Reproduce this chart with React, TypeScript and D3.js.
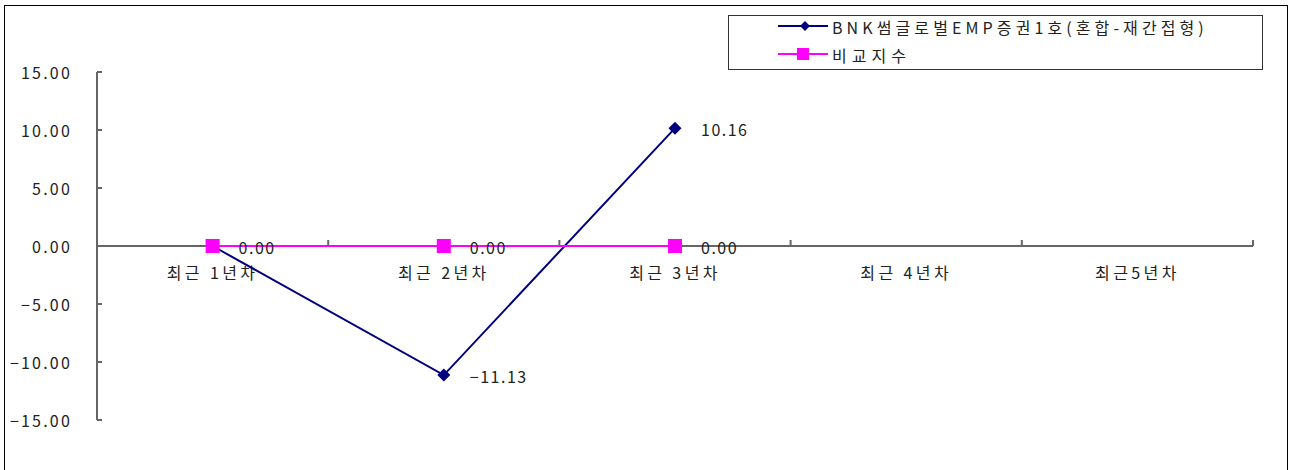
import React from "react";
import * as d3 from "d3";

const categories = ["최근 1년차", "최근 2년차", "최근 3년차", "최근 4년차", "최근5년차"];
const fundName = "BNK썸글로벌EMP증권1호(혼합-재간접형)";
const indexName = "비교지수";
const fundValues: (number | null)[] = [0.0, -11.13, 10.16, null, null];
const indexValues: (number | null)[] = [0.0, 0.0, 0.0, null, null];
const yTicks = [15, 10, 5, 0, -5, -10, -15];

const W = 1290;
const H = 470;
const FONT = "'Noto Sans CJK KR', 'Noto Sans', sans-serif";

export default function App() {
  const plotLeft = 97;
  const plotRight = 1253;
  const x = d3.scaleBand<string>().domain(categories).range([plotLeft, plotRight]).padding(0);
  const y = d3.scaleLinear().domain([-15, 15]).range([420, 72]);
  const cx = (c: string) => (x(c) as number) + x.bandwidth() / 2;

  const line = d3
    .line<{ c: string; v: number | null }>()
    .defined((d) => d.v !== null)
    .x((d) => cx(d.c))
    .y((d) => y(d.v as number));

  const fundPts = categories.map((c, i) => ({ c, v: fundValues[i] }));
  const idxPts = categories.map((c, i) => ({ c, v: indexValues[i] }));
  const y0 = y(0);
  const boundaries = categories.map((c) => (x(c) as number) + x.bandwidth());

  const navy = "#000080";
  const magenta = "#FF00FF";
  const axisColor = "#666666";

  const diamond = (px: number, py: number, r: number) =>
    `M${px},${py - r}L${px + r},${py}L${px},${py + r}L${px - r},${py}Z`;

  const seen = new Set<string>();
  const labelPts = [...fundPts, ...idxPts].filter((d) => {
    if (d.v === null) return false;
    const k = d.c + "|" + d.v;
    if (seen.has(k)) return false;
    seen.add(k);
    return true;
  });

  return (
    <div style={{ position: "absolute", left: 0, top: 0 }}>
      <svg width={W} height={H} style={{ display: "block", background: "#fff" }} fontFamily={FONT}>
        <rect x={4.5} y={5.5} width={1283} height={480} fill="#fff" stroke="#000" strokeWidth={1} />

        {/* Y axis */}
        <line x1={plotLeft} x2={plotLeft} y1={y(15)} y2={y(-15)} stroke={axisColor} strokeWidth={2} />
        {yTicks.map((t) => (
          <g key={t}>
            <line x1={plotLeft} x2={plotLeft + 5} y1={y(t)} y2={y(t)} stroke={axisColor} strokeWidth={2} />
            <text
              x={72}
              y={y(t)}
              textAnchor="end"
              dominantBaseline="central"
              fontSize={16}
              letterSpacing={2.2}
              fill="#222"
            >
              {d3.format(".2f")(t)}
            </text>
          </g>
        ))}

        {/* X axis */}
        <line x1={plotLeft} x2={plotRight} y1={y0} y2={y0} stroke={axisColor} strokeWidth={2} />
        {boundaries.map((bx, i) => (
          <line key={i} x1={bx} x2={bx} y1={y0} y2={y0 - 6} stroke={axisColor} strokeWidth={2} />
        ))}
        {categories.map((c) => (
          <text
            key={c}
            x={cx(c)}
            y={272}
            textAnchor="middle"
            dominantBaseline="central"
            fontSize={16}
            letterSpacing={3.4}
            fill="#222"
          >
            {c}
          </text>
        ))}

        {/* Fund series */}
        <path d={line(fundPts) || ""} fill="none" stroke={navy} strokeWidth={2} />
        {fundPts
          .filter((d) => d.v !== null)
          .map((d) => (
            <path key={d.c} d={diamond(cx(d.c), y(d.v as number), 6.5)} fill={navy} />
          ))}
        {/* Index series */}
        <path d={line(idxPts) || ""} fill="none" stroke={magenta} strokeWidth={2} />
        {idxPts
          .filter((d) => d.v !== null)
          .map((d) => (
            <rect key={d.c} x={cx(d.c) - 7} y={y(d.v as number) - 7} width={14} height={14} fill={magenta} />
          ))}

        {/* Data labels */}
        {labelPts.map((d, i) => (
          <text
            key={"l" + i}
            x={cx(d.c) + 26}
            y={y(d.v as number) + 1}
            dominantBaseline="central"
            fontSize={16}
            letterSpacing={1.5}
            fill="#222"
          >
            {d3.format(".2f")(d.v as number)}
          </text>
        ))}

        {/* Legend */}
        <rect x={728.5} y={15.5} width={534} height={54} fill="#fff" stroke="#333" strokeWidth={1} />
        <line x1={778} x2={828} y1={26} y2={26} stroke={navy} strokeWidth={2} />
        <path d={diamond(805, 26, 5)} fill={navy} />
        <text x={832} y={27} dominantBaseline="central" fontSize={16} letterSpacing={4.1} fill="#222">
          {fundName}
        </text>
        <line x1={778} x2={828} y1={54} y2={54} stroke={magenta} strokeWidth={2} />
        <rect x={797} y={48} width={12} height={12} fill={magenta} />
        <text x={832} y={55} dominantBaseline="central" fontSize={16} letterSpacing={5} fill="#222">
          {indexName}
        </text>
      </svg>
    </div>
  );
}
